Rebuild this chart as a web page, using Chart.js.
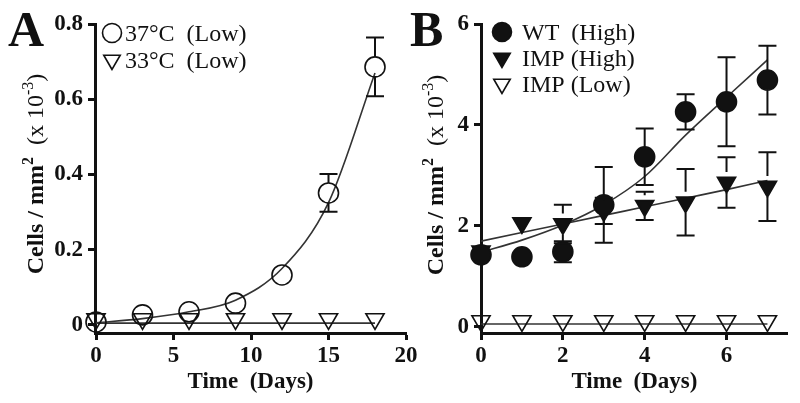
<!DOCTYPE html>
<html>
<head>
<meta charset="utf-8">
<script src="https://cdn.jsdelivr.net/npm/chart.js@4/dist/chart.umd.min.js"></script>
<style>
  body { margin: 0; background: #fff; }
  #wrap { position: relative; width: 800px; height: 403px; overflow: hidden; }
  canvas { position: absolute; top: 0; }
</style>
</head>
<body>
<div id="wrap">
  <canvas id="chartA" width="420" height="403" style="left:0"></canvas>
  <canvas id="chartB" width="400" height="403" style="left:400px"></canvas>
</div>
<script>
// ---- panel A data ----
const daysA = [0, 3, 6, 9, 12, 15, 18];
const cells37 = [0.008, 0.027, 0.035, 0.058, 0.133, 0.351, 0.686];
const err37 = [0, 0, 0, 0, 0.024, 0.05, 0.078];
const cells33 = [0.016, 0.016, 0.016, 0.016, 0.016, 0.016, 0.016];
const fit37 = [0.006, 0.017, 0.035, 0.066, 0.15, 0.325, 0.67];
const fit33Days = [0, 18];
const fit33 = [0.005, 0.005];
const xTicksA = [0, 5, 10, 15, 20];
const yTicksA = [0, 0.2, 0.4, 0.6, 0.8];
const yLabelsA = ['0', '0.2', '0.4', '0.6', '0.8'];

// ---- panel B data ----
const daysB = [0, 1, 2, 3, 4, 5, 6, 7];
const wtHigh = [1.43, 1.39, 1.49, 2.42, 3.37, 4.26, 4.46, 4.89];
const wtErr = [0.1, 0.05, 0.21, 0.75, 0.56, 0.35, 0.88, 0.68];
const impHigh = [1.5, 2.06, 2.04, 2.3, 2.4, 2.47, 2.86, 2.78];
const impErr = [0.1, 0.05, 0.38, 0.26, 0.28, 0.66, 0.5, 0.68];
const impLow = [0.12, 0.12, 0.12, 0.12, 0.12, 0.12, 0.12, 0.12];
const fitWT = [1.48, 1.72, 2.02, 2.42, 2.98, 3.8, 4.55, 5.29];
const fitIMP = [1.7, 1.87, 2.04, 2.21, 2.38, 2.55, 2.72, 2.9];
const fitLowDays = [0, 7];
const fitLow = [0.06, 0.06];
const xTicksB = [0, 2, 4, 6];
const yTicksB = [0, 2, 4, 6];
const yLabelsB = ['0', '2', '4', '6'];

const SERIF = '"Liberation Serif", "Times New Roman", serif';
const INK = '#111';

function pts(xs, ys) {
  return xs.map((x, i) => ({ x: x, y: ys[i] }));
}

function drawMarker(ctx, style, x, y, r, filled) {
  ctx.beginPath();
  if (style === 'circle') {
    ctx.arc(x, y, r, 0, Math.PI * 2);
  } else {
    ctx.moveTo(x, y + r);
    ctx.lineTo(x - r * 0.866, y - r / 2);
    ctx.lineTo(x + r * 0.866, y - r / 2);
    ctx.closePath();
  }
  if (filled) ctx.fill();
  ctx.stroke();
}

// error bars, drawn from the edge of the symbol out to the cap
const errorBars = {
  id: 'errorBars',
  afterDatasetsDraw(chart) {
    const ctx = chart.ctx;
    const ys = chart.scales.y;
    chart.data.datasets.forEach((ds, i) => {
      if (!ds.errors) return;
      const meta = chart.getDatasetMeta(i);
      ctx.save();
      ctx.strokeStyle = INK;
      ctx.lineWidth = 2;
      meta.data.forEach((pt, j) => {
        const e = ds.errors[j];
        if (!e) return;
        const v = ds.data[j].y;
        const top = ys.getPixelForValue(v + e);
        const bot = ys.getPixelForValue(v - e);
        const r = ds.pointRadius;
        ctx.beginPath();
        if (pt.y - r > top) {
          ctx.moveTo(pt.x, pt.y - r); ctx.lineTo(pt.x, top);
          ctx.moveTo(pt.x - 9, top); ctx.lineTo(pt.x + 9, top);
        }
        if (pt.y + r < bot) {
          ctx.moveTo(pt.x, pt.y + r); ctx.lineTo(pt.x, bot);
          ctx.moveTo(pt.x - 9, bot); ctx.lineTo(pt.x + 9, bot);
        }
        ctx.stroke();
      });
      ctx.restore();
    });
  }
};

// panel letter, legend inside the plot, rotated y title with superscripts
const panelDeco = {
  id: 'panelDeco',
  afterDraw(chart, args, opts) {
    const ctx = chart.ctx;
    ctx.save();
    ctx.fillStyle = INK;
    ctx.font = 'bold 50px ' + SERIF;
    ctx.textBaseline = 'alphabetic';
    ctx.fillText(opts.letter, opts.letterX, 46);

    // legend
    ctx.font = '24px ' + SERIF;
    let row = 0;
    chart.data.datasets.forEach(ds => {
      if (!ds.label) return;
      const y = opts.legendY + row * opts.rowGap;
      ctx.strokeStyle = INK;
      ctx.fillStyle = INK;
      ctx.lineWidth = 1.6;
      drawMarker(ctx, ds.pointStyle, opts.markerX, y, 9.5, ds.pointBackgroundColor !== 'rgba(0,0,0,0)');
      ctx.fillText(ds.label, opts.textX, y + 8);
      row++;
    });

    // y title
    const size = 24;
    const parts = [
      { t: 'Cells / mm', w: 'bold', s: size, dy: 0 },
      { t: '2', w: 'bold', s: 16, dy: -10 },
      { t: '  (x 10', w: 'normal', s: size, dy: 0 },
      { t: '-3', w: 'normal', s: 16, dy: -10 },
      { t: ')', w: 'normal', s: size, dy: 0 }
    ];
    let total = 0;
    parts.forEach(p => {
      ctx.font = p.w + ' ' + p.s + 'px ' + SERIF;
      p.width = ctx.measureText(p.t).width;
      total += p.width;
    });
    ctx.translate(opts.titleX, opts.titleY);
    ctx.rotate(-Math.PI / 2);
    let x = -total / 2;
    parts.forEach(p => {
      ctx.font = p.w + ' ' + p.s + 'px ' + SERIF;
      ctx.fillText(p.t, x, p.dy);
      x += p.width;
    });
    ctx.restore();
  }
};

function axis(min, max, tickVals, labels, fixSize, isX, title) {
  const cfg = {
    type: 'linear',
    min: min,
    max: max,
    afterBuildTicks: s => { s.ticks = tickVals.map(v => ({ value: v })); },
    border: { color: INK, width: 3 },
    grid: { drawOnChartArea: false, tickLength: 7, tickWidth: 3, tickColor: INK },
    ticks: {
      font: { family: SERIF, weight: 'bold', size: 23 },
      color: INK,
      padding: isX ? 2 : 5,
      callback: (v, i) => labels ? labels[i] : String(v)
    }
  };
  if (isX) {
    cfg.afterFit = s => { s.height = fixSize; };
    cfg.title = {
      display: true, text: title, color: INK,
      font: { family: SERIF, weight: 'bold', size: 23 },
      padding: { top: 0, bottom: 7 }
    };
  } else {
    cfg.afterFit = s => { s.width = fixSize; };
  }
  return cfg;
}

function fitLine(xs, ys) {
  return {
    type: 'line', data: pts(xs, ys), borderColor: '#333', borderWidth: 1.6,
    pointRadius: 0, cubicInterpolationMode: 'monotone', fill: false, order: 5
  };
}

function symbols(label, xs, ys, style, filled, r, errs) {
  return {
    type: 'line', label: label, data: pts(xs, ys), showLine: false,
    pointStyle: style, pointRotation: style === 'triangle' ? 180 : 0,
    pointRadius: r, pointHoverRadius: r,
    pointBackgroundColor: filled ? INK : 'rgba(0,0,0,0)',
    pointBorderColor: INK, pointBorderWidth: 1.6,
    errors: errs, clip: false, order: 1
  };
}

new Chart(document.getElementById('chartA'), {
  type: 'line',
  data: {
    datasets: [
      symbols('37°C  (Low)', daysA, cells37, 'circle', false, 10, err37),
      symbols('33°C  (Low)', daysA, cells33, 'triangle', false, 10.5, null),
      fitLine(daysA, fit37),
      fitLine(fit33Days, fit33)
    ]
  },
  options: {
    responsive: false,
    animation: false,
    layout: { padding: { left: 0, top: 24, right: 14, bottom: 0 } },
    scales: {
      x: axis(-0.065, 20, xTicksA, null, 70, true, 'Time  (Days)'),
      y: axis(-0.0213, 0.8, yTicksA, yLabelsA, 95, false)
    },
    plugins: {
      legend: { display: false },
      tooltip: { enabled: false },
      panelDeco: { letter: 'A', letterX: 8, legendY: 33, rowGap: 27, markerX: 112, textX: 125, titleX: 43, titleY: 174 }
    }
  },
  plugins: [errorBars, panelDeco]
});

new Chart(document.getElementById('chartB'), {
  type: 'line',
  data: {
    datasets: [
      symbols('WT  (High)', daysB, wtHigh, 'circle', true, 10, wtErr),
      symbols('IMP (High)', daysB, impHigh, 'triangle', true, 10.5, impErr),
      symbols('IMP (Low)', daysB, impLow, 'triangle', false, 10.5, null),
      fitLine(daysB, fitWT),
      fitLine(daysB, fitIMP),
      fitLine(fitLowDays, fitLow)
    ]
  },
  options: {
    responsive: false,
    animation: false,
    layout: { padding: { left: 0, top: 24, right: 8, bottom: 0 } },
    scales: {
      x: axis(0, 7.5, xTicksB, null, 70, true, 'Time  (Days)'),
      y: axis(-0.119, 6, yTicksB, yLabelsB, 81, false)
    },
    plugins: {
      legend: { display: false },
      tooltip: { enabled: false },
      panelDeco: { letter: 'B', letterX: 10, legendY: 32, rowGap: 26, markerX: 102, textX: 122, titleX: 43, titleY: 175 }
    }
  },
  plugins: [errorBars, panelDeco]
});
</script>
</body>
</html>
